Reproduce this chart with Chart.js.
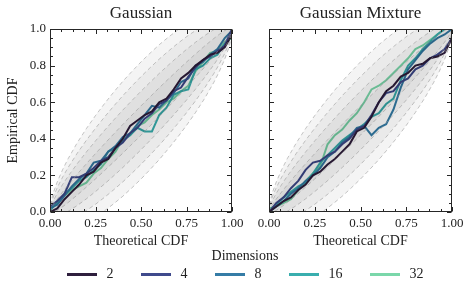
<!DOCTYPE html>
<html><head><meta charset="utf-8">
<script src="https://cdn.jsdelivr.net/npm/chart.js@4"></script>
<style>
body{margin:0;background:#fff;width:475px;height:299px;overflow:hidden;position:relative;font-family:"Liberation Serif",serif;color:#222;}
canvas{position:absolute;left:0;top:0;}
#ltitle{position:absolute;left:0;width:490px;top:248px;text-align:center;font-size:14px;}
#legend{position:absolute;left:0;width:490px;top:266px;display:flex;justify-content:center;gap:27px;font-size:14px;}
.item{display:flex;align-items:center;}
.sw{width:30px;height:3px;margin-right:10px;}
</style></head><body>
<canvas id="c1" width="475" height="299"></canvas>
<canvas id="c2" width="475" height="299"></canvas>
<div id="ltitle">Dimensions</div>
<div id="legend"></div>
<script>
// ---- data ----
const panelTitles = ['Gaussian', 'Gaussian Mixture'];
const dimensions = ['2', '4', '8', '16', '32'];
const colors = ['#2e1f3d', '#3f4a8c', '#357ca6', '#39aeae', '#7ad7aa'];
const xGrid = [0,0.04,0.08,0.12,0.16,0.2,0.24,0.28,0.32,0.36,0.4,0.44,0.48,0.52,0.56,0.6,0.64,0.68,0.72,0.76,0.8,0.84,0.88,0.92,0.96,1];
const gauss2  = [0.0,0.02,0.07,0.11,0.15,0.2,0.22,0.27,0.29,0.35,0.4,0.47,0.5,0.53,0.55,0.6,0.62,0.67,0.73,0.76,0.8,0.83,0.86,0.87,0.9,0.97];
const gauss4  = [0.03,0.06,0.1,0.19,0.19,0.21,0.24,0.28,0.3,0.35,0.38,0.43,0.46,0.51,0.54,0.59,0.61,0.66,0.68,0.74,0.79,0.83,0.85,0.88,0.91,1.0];
const gauss8  = [0.02,0.04,0.09,0.14,0.18,0.21,0.27,0.28,0.33,0.36,0.41,0.43,0.48,0.53,0.58,0.57,0.61,0.65,0.71,0.73,0.8,0.82,0.86,0.89,0.95,0.99];
const gauss16 = [0.01,0.05,0.1,0.13,0.17,0.19,0.23,0.26,0.33,0.35,0.39,0.42,0.46,0.44,0.44,0.53,0.57,0.64,0.66,0.67,0.78,0.8,0.84,0.86,0.92,0.96];
const gauss32 = [0.01,0.06,0.09,0.12,0.14,0.16,0.21,0.24,0.29,0.33,0.4,0.42,0.47,0.49,0.53,0.56,0.6,0.62,0.66,0.69,0.77,0.82,0.87,0.88,0.93,0.95];
const mix2  = [0.0,0.03,0.06,0.08,0.12,0.15,0.2,0.22,0.26,0.29,0.33,0.37,0.44,0.46,0.52,0.6,0.66,0.69,0.74,0.76,0.8,0.81,0.84,0.85,0.87,0.95];
const mix4  = [0.0,0.05,0.08,0.13,0.17,0.23,0.27,0.28,0.31,0.33,0.37,0.4,0.45,0.47,0.53,0.6,0.65,0.66,0.71,0.73,0.78,0.8,0.84,0.86,0.89,0.95];
const mix8  = [0.0,0.03,0.06,0.1,0.13,0.17,0.2,0.24,0.3,0.33,0.38,0.41,0.46,0.47,0.42,0.46,0.48,0.56,0.68,0.78,0.83,0.88,0.92,0.95,0.97,1.0];
const mix16 = [0.0,0.04,0.08,0.11,0.14,0.16,0.21,0.27,0.31,0.35,0.39,0.42,0.45,0.48,0.52,0.54,0.59,0.62,0.72,0.8,0.84,0.89,0.93,0.97,1.0,1.0];
const mix32 = [0.02,0.03,0.05,0.07,0.12,0.17,0.21,0.25,0.37,0.42,0.45,0.5,0.54,0.6,0.67,0.69,0.72,0.76,0.8,0.84,0.89,0.91,0.94,0.97,1.0,1.0];
// confidence band: outer half-width read at bandX, nested levels
const bandX  = [0,0.005,0.01,0.02,0.04,0.07,0.1,0.15,0.2,0.25,0.3,0.35,0.4,0.45,0.5,0.55,0.6,0.65,0.7,0.75,0.8,0.85,0.9,0.93,0.96,0.98,0.99,0.995,1];
const bandHW = [0,0.045,0.064,0.09,0.125,0.163,0.192,0.229,0.256,0.277,0.293,0.305,0.314,0.318,0.32,0.318,0.314,0.305,0.293,0.277,0.256,0.229,0.192,0.163,0.125,0.09,0.064,0.045,0];
const bandLevels = [0.25, 0.5, 0.75, 1.0];
const xTicks = [0,0.25,0.5,0.75,1];
const xTickLabels = ['0.00','0.25','0.50','0.75','1.00'];
const yTicks = [0,0.2,0.4,0.6,0.8,1];
const yTickLabels = ['0.0','0.2','0.4','0.6','0.8','1.0'];
const panelSeries = [[gauss2,gauss4,gauss8,gauss16,gauss32],[mix2,mix4,mix8,mix16,mix32]];

// ---- layout ----
const plotBox = [{left:50,right:232},{left:269,right:452}];
const plotTop = 29, plotBottom = 212, W = 475, H = 299;
const FONT = '"Liberation Serif", serif';

const frameTicks = {
  id:'frameTicks',
  afterDatasetsDraw(chart){
    const {ctx, chartArea:a, scales:{x,y}} = chart;
    ctx.save();
    ctx.strokeStyle='#262626'; ctx.lineWidth=1;
    const L=Math.round(a.left)+0.5, R=Math.round(a.right)-0.5, T=Math.round(a.top)+0.5, B=Math.round(a.bottom)-0.5;
    ctx.strokeRect(L,T,R-L,B-T);
    ctx.beginPath();
    for(let i=0;i<=16;i++){
      const v=i/16, px=Math.round(x.getPixelForValue(v))+0.5, len=(i%4===0)?4.5:2.5;
      ctx.moveTo(px,B); ctx.lineTo(px,B-len); ctx.moveTo(px,T); ctx.lineTo(px,T+len);
    }
    for(let i=0;i<=20;i++){
      const v=i/20, py=Math.round(y.getPixelForValue(v))+0.5, len=(i%4===0)?4.5:2.5;
      ctx.moveTo(L,py); ctx.lineTo(L+len,py); ctx.moveTo(R,py); ctx.lineTo(R-len,py);
    }
    ctx.stroke();
    ctx.restore();
  }
};

function bandDatasets(){
  const ds=[];
  bandLevels.forEach(f=>{
    const up = bandX.map((v,i)=>({x:v,y:v+f*bandHW[i]}));
    const lo = bandX.map((v,i)=>({x:v,y:v-f*bandHW[i]}));
    const idx = ds.length;
    ds.push({data:up,showLine:true,pointRadius:0,borderColor:'rgba(150,150,150,0.55)',borderWidth:1,borderDash:[4,3],
      backgroundColor:'rgba(0,0,0,0.045)',fill:{target:idx+1},tension:0});
    ds.push({data:lo,showLine:true,pointRadius:0,borderColor:'rgba(150,150,150,0.55)',borderWidth:1,borderDash:[4,3],fill:false,tension:0});
  });
  return ds;
}

function makeChart(id, p){
  const series = panelSeries[p];
  const datasets = bandDatasets();
  series.forEach((s,k)=>{
    datasets.push({label:dimensions[k],data:xGrid.map((v,i)=>({x:v,y:s[i]})),showLine:true,pointRadius:0,
      borderColor:colors[k],borderWidth:2,fill:false,tension:0});
  });
  const box = plotBox[p];
  return new Chart(document.getElementById(id),{
    type:'scatter',
    data:{datasets},
    options:{
      responsive:false,animation:false,
      layout:{padding:{left:0,right:W-box.right,top:0,bottom:H-plotBottom-38}},
      plugins:{
        legend:{display:false},tooltip:{enabled:false},
        title:{display:true,text:panelTitles[p],fullSize:false,color:'#222',font:{family:FONT,size:17,weight:'normal'},padding:{top:3,bottom:5.6}}
      },
      scales:{
        x:{type:'linear',min:0,max:1,
          grid:{display:false,drawTicks:false},border:{display:false},
          afterBuildTicks:(s)=>{s.ticks=xTicks.map(v=>({value:v}));},
          afterFit:(s)=>{s.height=38;},
          ticks:{color:'#222',padding:4,maxRotation:0,autoSkip:false,font:{family:FONT,size:13},
            callback:(v,i)=>xTickLabels[i]},
          title:{display:true,text:'Theoretical CDF',color:'#222',font:{family:FONT,size:14},padding:{top:0,bottom:0}}
        },
        y:{type:'linear',min:0,max:1,
          grid:{display:false,drawTicks:false},border:{display:false},
          afterBuildTicks:(s)=>{s.ticks=yTicks.map(v=>({value:v}));},
          afterFit:(s)=>{s.width=box.left;},
          ticks:{display:p===0,color:'#222',padding:4,autoSkip:false,font:{family:FONT,size:13},
            callback:(v,i)=>yTickLabels[i]},
          title:{display:p===0,text:'Empirical CDF',color:'#222',font:{family:FONT,size:14},padding:{top:5,bottom:0}}
        }
      }
    },
    plugins:[frameTicks]
  });
}
makeChart('c1',0);
makeChart('c2',1);

const leg=document.getElementById('legend');
dimensions.forEach((d,k)=>{
  const it=document.createElement('div'); it.className='item';
  const sw=document.createElement('div'); sw.className='sw'; sw.style.background=colors[k];
  const tx=document.createElement('span'); tx.textContent=d;
  it.appendChild(sw); it.appendChild(tx); leg.appendChild(it);
});
</script>
</body></html>
